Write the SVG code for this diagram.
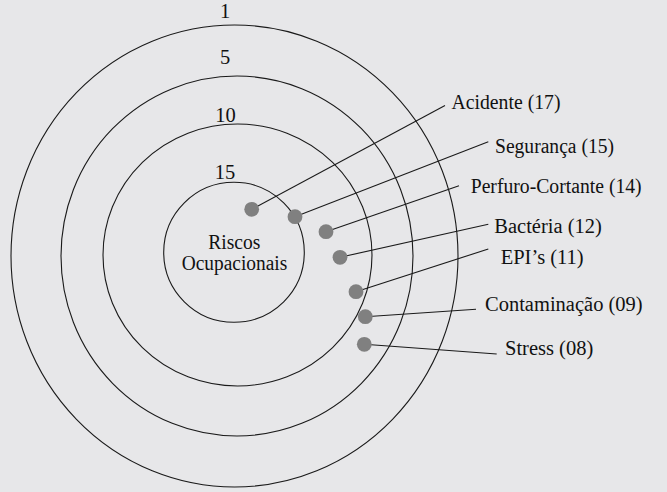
<svg xmlns="http://www.w3.org/2000/svg" width="667" height="492" viewBox="0 0 667 492">
<style>
.ring{fill:none;stroke:#1a1a1a;stroke-width:1.1}
.ln{stroke:#1a1a1a;stroke-width:1.1;fill:none}
.dot{fill:#808080}
text{font-family:"Liberation Serif","Times New Roman",serif;font-size:20.5px;fill:#111}
.c{text-anchor:middle}
</style>
<rect width="667" height="492" fill="#e7e7e9"/>
<g id="rings">
<ellipse id="ring1" class="ring" cx="234.5" cy="256" rx="223.5" ry="231"/>
<ellipse id="ring5" class="ring" cx="237" cy="256" rx="176" ry="180"/>
<ellipse id="ring10" class="ring" cx="237.5" cy="255" rx="134.5" ry="131"/>
<ellipse id="ring15" class="ring" cx="234" cy="252.3" rx="70.3" ry="70"/>
</g>
<g id="ring-labels">
<text class="c" x="225" y="18">1</text>
<text class="c" x="225" y="64">5</text>
<text class="c" x="225.5" y="122">10</text>
<text class="c" x="225" y="179">15</text>
</g>
<g id="center">
<text class="c" x="234.3" y="248.5" textLength="52" lengthAdjust="spacingAndGlyphs">Riscos</text>
<text class="c" x="234.5" y="269.5" textLength="105.5" lengthAdjust="spacingAndGlyphs">Ocupacionais</text>
</g>
<g id="connectors">
<line class="ln" x1="251.7" y1="209.3" x2="445" y2="105.5"/>
<line class="ln" x1="295" y1="216.7" x2="488.3" y2="141.7"/>
<line class="ln" x1="326" y1="231.7" x2="459" y2="185.7"/>
<line class="ln" x1="340" y1="257.3" x2="488.3" y2="224.3"/>
<line class="ln" x1="356" y1="291.7" x2="488.3" y2="249"/>
<line class="ln" x1="365.3" y1="316.7" x2="476" y2="309.3"/>
<line class="ln" x1="364.3" y1="344.3" x2="496.7" y2="354"/>
</g>
<g id="acidente"><circle class="dot" cx="251.7" cy="209.3" r="7.4"/><text x="451.5" y="109" textLength="109" lengthAdjust="spacingAndGlyphs">Acidente (17)</text></g>
<g id="seguranca"><circle class="dot" cx="295" cy="216.7" r="7.4"/><text x="495" y="153" textLength="119" lengthAdjust="spacingAndGlyphs">Segurança (15)</text></g>
<g id="perfuro"><circle class="dot" cx="326" cy="231.7" r="7.4"/><text x="470.7" y="193" textLength="171" lengthAdjust="spacingAndGlyphs">Perfuro-Cortante (14)</text></g>
<g id="bacteria"><circle class="dot" cx="340" cy="257.3" r="7.4"/><text x="494.3" y="233">Bactéria (12)</text></g>
<g id="epis"><circle class="dot" cx="356" cy="291.7" r="7.4"/><text x="500.7" y="264">EPI’s (11)</text></g>
<g id="contaminacao"><circle class="dot" cx="365.3" cy="316.7" r="7.4"/><text x="485" y="310.5">Contaminação (09)</text></g>
<g id="stress"><circle class="dot" cx="364.3" cy="344.3" r="7.4"/><text x="505" y="355">Stress (08)</text></g>
</svg>
